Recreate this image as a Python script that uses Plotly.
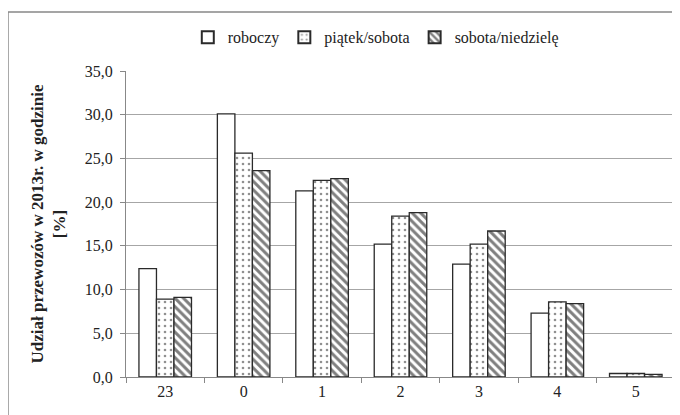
import plotly.graph_objects as go

categories = ["23", "0", "1", "2", "3", "4", "5"]
roboczy = [12.4, 30.1, 21.3, 15.2, 12.9, 7.3, 0.4]
piatek_sobota = [8.9, 25.6, 22.5, 18.4, 15.2, 8.6, 0.4]
sobota_niedziele = [9.1, 23.6, 22.7, 18.8, 16.7, 8.4, 0.3]
series_names = ["roboczy", "piątek/sobota", "sobota/niedzielę"]
y_ticks = [0, 5, 10, 15, 20, 25, 30, 35]

font = "Liberation Serif"
line = dict(color="#2a2a2a", width=1.3)

fig = go.Figure()
fig.add_trace(go.Bar(x=categories, y=roboczy, name=series_names[0],
                     marker=dict(color="white", line=line)))
fig.add_trace(go.Bar(x=categories, y=piatek_sobota, name=series_names[1],
                     marker=dict(color="white", line=line,
                                 pattern=dict(shape=".", fgcolor="#222", bgcolor="white",
                                              size=6, solidity=0.15))))
fig.add_trace(go.Bar(x=categories, y=sobota_niedziele, name=series_names[2],
                     marker=dict(color="white", line=line,
                                 pattern=dict(shape="\\", fgcolor="#000", bgcolor="white",
                                              size=6, solidity=0.5))))

fig.update_layout(
    width=680, height=415,
    margin=dict(l=118, r=13, t=63, b=46, autoexpand=False),
    paper_bgcolor="white", plot_bgcolor="white",
    font=dict(family=font, size=16, color="#222"),
    separators=", ",
    barmode="group", bargap=0.33, bargroupgap=0,
    showlegend=True,
    legend=dict(orientation="h", x=0.455, xanchor="center", y=1.11, yanchor="middle",
                font=dict(family=font, size=16), tracegroupgap=0,
                itemsizing="constant"),
    xaxis=dict(type="category", showgrid=False, showline=True, linecolor="#888",
               linewidth=1, ticks="outside", tickson="boundaries", ticklen=5,
               tickcolor="#888", tickfont=dict(family=font, size=16), automargin=False),
    yaxis=dict(range=[0, 35], tickvals=y_ticks, tickformat=".1f", showgrid=True,
               gridcolor="#a6a6a6", gridwidth=1, showline=True, linecolor="#888",
               ticks="outside", ticklen=5, tickcolor="#888", zeroline=False,
               tickfont=dict(family=font, size=16), automargin=False,
               ticklabelstandoff=4,
               title=dict(text="<b>Udział przewozów w 2013r. w godzinie</b><br><b>[%]</b>",
                          font=dict(family=font, size=17), standoff=14)),
    shapes=[dict(type="rect", xref="paper", yref="paper", x0=-0.215, x1=1.2,
                 y0=-0.3, y1=1.193, line=dict(color="#888", width=1.5),
                 fillcolor="rgba(0,0,0,0)", layer="below")],
)

fig.write_html("out.html")
